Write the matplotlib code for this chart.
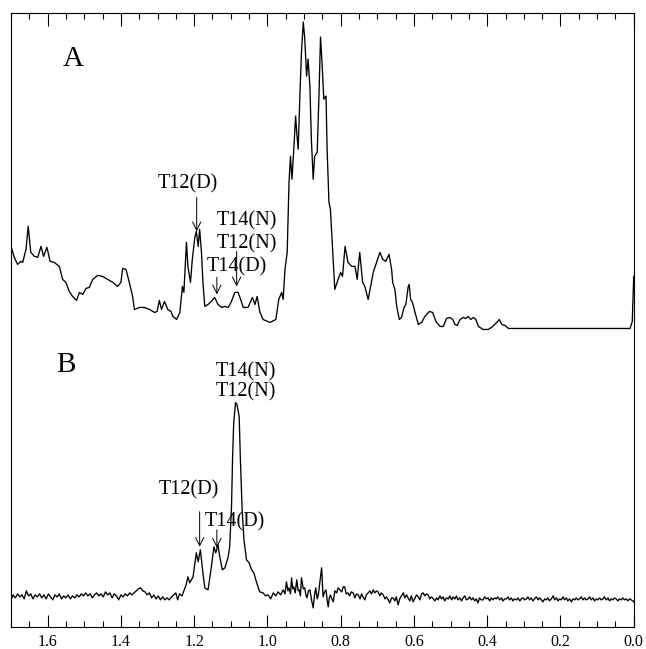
import matplotlib.pyplot as plt
from matplotlib.ticker import MultipleLocator, FormatStrFormatter

plt.rcParams['font.family'] = ['Liberation Serif', 'DejaVu Serif']

# spectrum A (chemical shift in ppm, intensity in arbitrary units above its flat tail)
a_ppm = [1.700, 1.691, 1.682, 1.673, 1.668, 1.659, 1.653, 1.646, 1.636, 1.627,
         1.618, 1.611, 1.602, 1.593, 1.582, 1.568, 1.559, 1.550, 1.541, 1.532,
         1.521, 1.513, 1.504, 1.495, 1.486, 1.477, 1.463, 1.450, 1.436, 1.422,
         1.409, 1.400, 1.395, 1.386, 1.377, 1.368, 1.363, 1.349, 1.336, 1.322,
         1.308, 1.301, 1.295, 1.289, 1.281, 1.272, 1.263, 1.258, 1.248, 1.239,
         1.232, 1.228, 1.221, 1.217, 1.210, 1.205, 1.198, 1.194, 1.189, 1.185,
         1.180, 1.176, 1.171, 1.162, 1.153, 1.144, 1.135, 1.125, 1.116, 1.107,
         1.098, 1.089, 1.080, 1.073, 1.066, 1.053, 1.041, 1.034, 1.028, 1.021,
         1.012, 0.993, 0.977, 0.969, 0.961, 0.957, 0.952, 0.946, 0.941, 0.937,
         0.933, 0.928, 0.923, 0.920, 0.916, 0.911, 0.907, 0.902, 0.898, 0.893,
         0.889, 0.884, 0.880, 0.875, 0.871, 0.864, 0.859, 0.855, 0.851, 0.846,
         0.840, 0.837, 0.832, 0.828, 0.822, 0.816, 0.807, 0.800, 0.795, 0.788,
         0.780, 0.770, 0.761, 0.755, 0.748, 0.740, 0.734, 0.725, 0.711, 0.702,
         0.693, 0.685, 0.677, 0.668, 0.661, 0.658, 0.652, 0.647, 0.640, 0.634,
         0.627, 0.622, 0.616, 0.613, 0.609, 0.604, 0.597, 0.588, 0.579, 0.570,
         0.558, 0.549, 0.540, 0.529, 0.520, 0.511, 0.502, 0.494, 0.488, 0.482,
         0.474, 0.465, 0.458, 0.452, 0.445, 0.438, 0.431, 0.424, 0.411, 0.397,
         0.385, 0.374, 0.367, 0.360, 0.351, 0.342, 0.333, 0.146, 0.010, 0.004,
         0.000]
a_int = [82, 71, 64, 67, 66, 79, 102, 76, 72, 71,
         82, 72, 81, 67, 66, 62, 49, 46, 37, 32,
         28, 36, 34, 40, 41, 49, 53, 52, 49, 46,
         42, 46, 60, 59, 46, 32, 19, 21, 21, 19,
         16, 17, 28, 19, 27, 19, 17, 12, 9, 16,
         42, 36, 86, 62, 46, 69, 91, 97, 82, 99,
         76, 46, 22, 24, 27, 31, 24, 21, 22, 21,
         27, 36, 36, 29, 21, 21, 31, 24, 32, 17,
         9, 6, 9, 29, 36, 29, 59, 76, 146, 172,
         149, 179, 212, 196, 179, 236, 276, 306, 289, 252,
         269, 242, 189, 149, 172, 176, 236, 291, 266, 229,
         232, 179, 126, 119, 79, 39, 49, 56, 52, 82,
         66, 62, 62, 49, 76, 46, 42, 29, 56, 66,
         76, 69, 67, 74, 59, 46, 39, 22, 9, 11,
         21, 24, 41, 44, 29, 26, 16, 4, 6, 12,
         17, 16, 7, 2, 2, 10, 11, 9, 4, 3,
         9, 11, 10, 12, 9, 11, 9, 2, -1, -1,
         2, 6, 9, 4, 3, 0, 0, 0, 0, 7,
         52]

# spectrum B
b_ppm = [1.700, 1.694, 1.688, 1.682, 1.676, 1.670, 1.664, 1.658, 1.652, 1.646,
         1.640, 1.634, 1.628, 1.622, 1.616, 1.610, 1.604, 1.598, 1.592, 1.586,
         1.580, 1.574, 1.568, 1.562, 1.556, 1.550, 1.544, 1.538, 1.532, 1.526,
         1.520, 1.514, 1.508, 1.502, 1.496, 1.490, 1.484, 1.478, 1.472, 1.466,
         1.460, 1.454, 1.448, 1.442, 1.436, 1.430, 1.424, 1.418, 1.412, 1.406,
         1.400, 1.394, 1.388, 1.382, 1.376, 1.370, 1.364, 1.358, 1.352, 1.346,
         1.340, 1.334, 1.328, 1.322, 1.316, 1.310, 1.304, 1.298, 1.292, 1.286,
         1.280, 1.274, 1.268, 1.262, 1.256, 1.250, 1.245, 1.240, 1.233, 1.227,
         1.222, 1.217, 1.212, 1.203, 1.194, 1.189, 1.183, 1.177, 1.171, 1.162,
         1.153, 1.146, 1.141, 1.135, 1.130, 1.123, 1.116, 1.107, 1.103, 1.098,
         1.095, 1.092, 1.087, 1.083, 1.077, 1.074, 1.069, 1.064, 1.057, 1.050,
         1.043, 1.037, 1.030, 1.021, 1.012, 1.005, 0.998, 0.991, 0.984, 0.977,
         0.971, 0.964, 0.957, 0.952, 0.948, 0.944, 0.941, 0.937, 0.934, 0.931,
         0.928, 0.924, 0.920, 0.916, 0.913, 0.910, 0.907, 0.902, 0.898, 0.895,
         0.892, 0.888, 0.884, 0.879, 0.875, 0.871, 0.868, 0.864, 0.861, 0.857,
         0.852, 0.848, 0.844, 0.840, 0.837, 0.834, 0.831, 0.828, 0.824, 0.820,
         0.816, 0.811, 0.807, 0.802, 0.797, 0.793, 0.789, 0.785, 0.780, 0.776,
         0.771, 0.766, 0.761, 0.757, 0.752, 0.747, 0.743, 0.739, 0.734, 0.730,
         0.725, 0.720, 0.716, 0.711, 0.707, 0.702, 0.698, 0.693, 0.689, 0.684,
         0.679, 0.675, 0.670, 0.666, 0.661, 0.657, 0.652, 0.648, 0.643, 0.639,
         0.634, 0.629, 0.625, 0.620, 0.616, 0.611, 0.607, 0.602, 0.597, 0.593,
         0.588, 0.584, 0.579, 0.575, 0.570, 0.566, 0.561, 0.557, 0.552, 0.547,
         0.543, 0.538, 0.534, 0.529, 0.525, 0.520, 0.516, 0.511, 0.506, 0.502,
         0.497, 0.493, 0.488, 0.484, 0.480, 0.475, 0.470, 0.466, 0.461, 0.457,
         0.452, 0.448, 0.443, 0.439, 0.434, 0.430, 0.425, 0.421, 0.416, 0.411,
         0.407, 0.402, 0.398, 0.393, 0.389, 0.384, 0.380, 0.375, 0.371, 0.366,
         0.361, 0.357, 0.352, 0.348, 0.343, 0.339, 0.334, 0.330, 0.325, 0.320,
         0.316, 0.311, 0.307, 0.302, 0.298, 0.293, 0.289, 0.284, 0.280, 0.275,
         0.271, 0.266, 0.261, 0.257, 0.252, 0.248, 0.243, 0.239, 0.234, 0.230,
         0.225, 0.220, 0.216, 0.211, 0.207, 0.202, 0.198, 0.193, 0.189, 0.184,
         0.180, 0.175, 0.170, 0.166, 0.161, 0.157, 0.152, 0.148, 0.143, 0.139,
         0.134, 0.130, 0.125, 0.120, 0.116, 0.111, 0.107, 0.102, 0.098, 0.093,
         0.089, 0.084, 0.080, 0.075, 0.070, 0.066, 0.061, 0.057, 0.052, 0.048,
         0.043, 0.039, 0.034, 0.030, 0.025, 0.020, 0.016, 0.011, 0.007, 0.002,
         0.000]
b_int = [-3, 2, -1, 3, 0, 2, -2, 6, 1, 3,
         -2, 2, 0, 3, -1, 2, -2, 3, 0, -3,
         2, 0, 3, -2, 1, -1, 2, -2, 1, -1,
         2, 0, 3, 1, 4, 1, 3, -1, 2, 4,
         1, 3, 0, 5, 2, 4, -1, 3, 1, -3,
         2, 0, 3, 1, 4, 2, 4, 6, 8, 9,
         6, 5, 2, 4, -1, 2, -2, 1, -3, 0,
         -3, -1, -3, 0, 2, 4, -3, 3, 1, 7,
         12, 20, 14, 20, 44, 35, 47, 27, 9, 7,
         30, 50, 44, 52, 40, 27, 29, 40, 50, 90,
         140, 174, 194, 192, 180, 140, 87, 57, 37, 34,
         27, 24, 15, 5, 4, 1, 2, -2, 4, 1,
         5, 2, 7, 3, 15, 6, 9, 3, 19, 8,
         10, 4, 17, 6, 7, 1, 19, 8, 9, 2,
         -1, 6, 7, -4, -11, 3, 9, -2, 2, 14,
         29, 0, 5, 7, -3, -10, -1, 2, -2, -5,
         6, 4, 9, 7, 5, 10, 10, 3, 4, 1,
         5, 4, -1, 3, 2, -2, 3, 0, -3, 2,
         4, 6, 3, 7, 4, 6, 5, 1, 4, 2,
         -2, 0, -3, -6, -1, -1, -4, 0, -8, -2,
         1, 4, -1, 2, -1, -4, 1, -5, -1, 2,
         0, -3, 3, 4, 1, 3, 2, -2, 0, -2,
         -4, -1, -3, 1, -2, 0, -4, -1, -2, 1,
         -3, 0, -2, 1, -3, -1, -4, -1, 1, -3,
         -2, 0, -3, -1, -4, -2, -6, -1, -3, -3,
         0, -2, -1, -4, -1, -3, -1, -2, 0, -3,
         -1, -4, -2, -2, 0, -3, -1, -4, -2, -3,
         -1, -4, -2, -1, -3, -2, 0, -3, -1, -4,
         -2, 0, -3, -1, -3, -5, -2, -3, -1, -4,
         -2, 1, -3, -1, -4, -2, -3, 0, -3, -1,
         -4, -2, -5, -2, -3, -1, -3, -2, 0, -3,
         -1, -3, -2, 0, -3, -1, -4, -2, -3, -1,
         -3, -2, 0, -3, -1, -4, -2, -3, -1, -2,
         -4, -2, -3, -1, -3, -2, -4, -2, -3, -4,
         -5]

# vertical placement of the two spectra in the shared frame
offset_a = 298
offset_b = 30

fig = plt.figure(figsize=(6.46, 6.49), dpi=100)
ax = fig.add_axes([0.017, 0.034, 0.964, 0.946])

ax.plot(a_ppm, [v + offset_a for v in a_int], color='k', lw=0.95)
ax.plot(b_ppm, [v + offset_b for v in b_int], color='k', lw=0.95)

ax.set_xlim(1.7, 0.0)
ax.set_ylim(0, 613)
ax.set_yticks([])
ax.xaxis.set_major_locator(MultipleLocator(0.2))
ax.xaxis.set_minor_locator(MultipleLocator(0.05))
ax.xaxis.set_major_formatter(FormatStrFormatter('%.1f'))
ax.tick_params(axis='x', which='both', direction='in', top=True, labelsize=11.5, width=0.8, pad=5)
ax.tick_params(axis='x', which='major', length=9)
ax.tick_params(axis='x', which='minor', length=4.5)
for s in ax.spines.values():
    s.set_linewidth(0.8)

# panel letters
ax.text(1.529, 567, 'A', fontsize=21, ha='center', va='center')
ax.text(1.551, 262, 'B', fontsize=21, ha='center', va='center')

arrow = dict(arrowstyle='->', lw=0.7, color='k', shrinkA=0, shrinkB=0, mutation_scale=15)
lab = dict(fontsize=14.5, ha='center', va='center')

# labels on spectrum A
ax.text(1.217, 442, 'T12(D)', **lab)
ax.annotate('', xy=(1.193, 395), xytext=(1.193, 429), arrowprops=arrow)
ax.text(1.056, 405, 'T14(N)', **lab)
ax.text(1.056, 382, 'T12(N)', **lab)
ax.annotate('', xy=(1.084, 340), xytext=(1.084, 375), arrowprops=arrow)
ax.text(1.084, 360, 'T14(D)', **lab)
ax.annotate('', xy=(1.138, 332), xytext=(1.138, 349), arrowprops=arrow)

# labels on spectrum B
ax.text(1.059, 255, 'T14(N)', **lab)
ax.text(1.059, 235, 'T12(N)', **lab)
ax.text(1.214, 137, 'T12(D)', **lab)
ax.annotate('', xy=(1.185, 80), xytext=(1.185, 115), arrowprops=arrow)
ax.text(1.088, 105, 'T14(D)', **lab)
ax.annotate('', xy=(1.138, 79), xytext=(1.138, 97), arrowprops=arrow)

fig.savefig('out.png', dpi=100)
